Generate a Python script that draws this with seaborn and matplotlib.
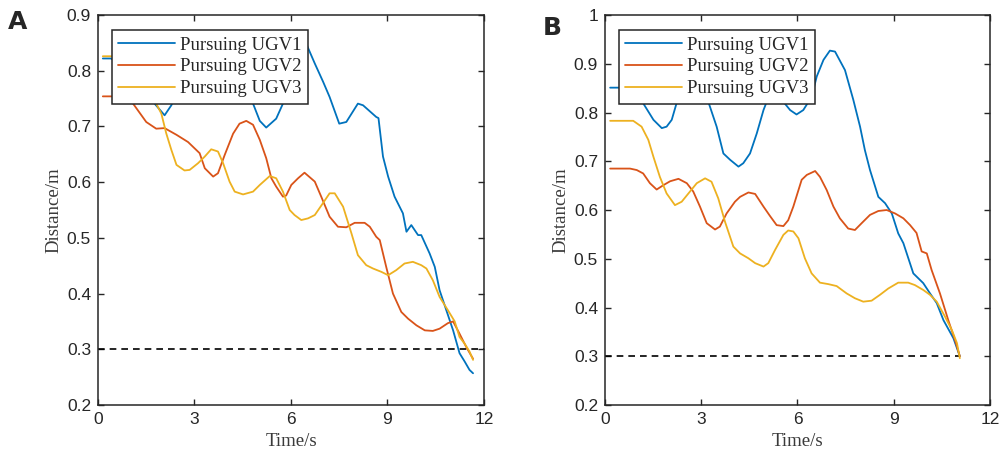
import numpy as np
import pandas as pd
import seaborn as sns
import matplotlib.pyplot as plt

series_names = ["Pursuing UGV1", "Pursuing UGV2", "Pursuing UGV3"]
colors = ["#0072BD", "#D95319", "#EDB120"]

# panel A
a_t1 = [0.15, 0.4, 0.8, 1.2, 1.5, 1.76, 2.07, 2.28, 2.6, 3.0, 3.5, 4.0, 4.4, 4.82, 5.03, 5.23, 5.54,
        5.75, 6.0, 6.3, 6.5, 6.74, 7.0, 7.2, 7.5, 7.72, 8.08, 8.24, 8.65, 8.72, 8.86, 9.02, 9.22, 9.48,
        9.59, 9.74, 9.95, 10.05, 10.31, 10.47, 10.62, 10.83, 11.04, 11.24, 11.4, 11.55, 11.66]
a_d1 = [0.822, 0.822, 0.81, 0.785, 0.76, 0.741, 0.72, 0.738, 0.775, 0.80, 0.805, 0.79, 0.765, 0.741,
        0.71, 0.698, 0.714, 0.741, 0.80, 0.855, 0.845, 0.813, 0.78, 0.753, 0.705, 0.708, 0.741, 0.738,
        0.717, 0.715, 0.646, 0.61, 0.574, 0.544, 0.511, 0.523, 0.505, 0.505, 0.472, 0.448, 0.406, 0.37,
        0.334, 0.293, 0.278, 0.263, 0.257]
a_t2 = [0.15, 0.5, 0.8, 1.09, 1.5, 1.81, 2.07, 2.44, 2.8, 3.16, 3.32, 3.58, 3.73, 3.94, 4.2, 4.4, 4.61,
        4.82, 5.03, 5.23, 5.39, 5.54, 5.75, 5.85, 6.01, 6.22, 6.42, 6.74, 6.94, 7.2, 7.46, 7.72, 7.98,
        8.29, 8.45, 8.65, 8.76, 8.96, 9.17, 9.43, 9.64, 9.9, 10.16, 10.41, 10.62, 10.88, 11.04, 11.24,
        11.45, 11.66]
a_d2 = [0.754, 0.754, 0.752, 0.741, 0.708, 0.696, 0.697, 0.685, 0.672, 0.652, 0.625, 0.61, 0.616,
        0.649, 0.687, 0.705, 0.71, 0.703, 0.676, 0.643, 0.607, 0.592, 0.574, 0.576, 0.595, 0.607, 0.617,
        0.601, 0.574, 0.538, 0.52, 0.519, 0.527, 0.527, 0.52, 0.502, 0.496, 0.448, 0.4, 0.367, 0.355,
        0.343, 0.334, 0.333, 0.337, 0.347, 0.35, 0.328, 0.304, 0.283]
a_t3 = [0.15, 0.5, 0.9, 1.3, 1.6, 1.81, 1.97, 2.12, 2.28, 2.44, 2.69, 2.85, 3.11, 3.32, 3.52, 3.73,
        3.89, 4.09, 4.25, 4.51, 4.82, 5.03, 5.34, 5.54, 5.75, 5.96, 6.11, 6.32, 6.53, 6.74, 6.99, 7.2,
        7.36, 7.62, 7.88, 8.08, 8.34, 8.55, 8.81, 9.02, 9.27, 9.53, 9.79, 10.05, 10.21, 10.41, 10.62,
        10.88, 11.09, 11.24, 11.4, 11.55, 11.66]
a_d3 = [0.826, 0.826, 0.815, 0.79, 0.76, 0.741, 0.723, 0.688, 0.658, 0.631, 0.621, 0.622, 0.634,
        0.646, 0.659, 0.655, 0.634, 0.601, 0.583, 0.578, 0.583, 0.595, 0.611, 0.607, 0.583, 0.55, 0.541,
        0.532, 0.535, 0.541, 0.562, 0.58, 0.58, 0.556, 0.508, 0.469, 0.451, 0.445, 0.439, 0.433, 0.442,
        0.454, 0.457, 0.451, 0.445, 0.424, 0.394, 0.37, 0.35, 0.322, 0.31, 0.296, 0.281]
a_thr_t = [0.0, 12.0]

# panel B
b_t1 = [0.16, 0.6, 0.9, 1.19, 1.51, 1.77, 1.92, 2.08, 2.23, 2.5, 2.8, 3.0, 3.22, 3.48, 3.69, 3.9,
        4.16, 4.31, 4.52, 4.73, 4.94, 5.04, 5.3, 5.56, 5.77, 5.97, 6.18, 6.44, 6.6, 6.81, 7.01, 7.17,
        7.48, 7.74, 7.95, 8.1, 8.26, 8.52, 8.73, 8.94, 9.14, 9.3, 9.61, 9.92, 10.13, 10.34, 10.55,
        10.86, 11.06]
b_d1 = [0.851, 0.851, 0.84, 0.819, 0.785, 0.768, 0.771, 0.785, 0.819, 0.85, 0.86, 0.85, 0.822, 0.771,
        0.716, 0.703, 0.689, 0.696, 0.716, 0.757, 0.805, 0.822, 0.84, 0.822, 0.805, 0.796, 0.805, 0.832,
        0.874, 0.908, 0.927, 0.925, 0.887, 0.826, 0.771, 0.723, 0.682, 0.627, 0.614, 0.593, 0.552,
        0.532, 0.47, 0.45, 0.429, 0.409, 0.374, 0.337, 0.3]
b_t2 = [0.16, 0.78, 0.99, 1.19, 1.4, 1.61, 1.82, 2.03, 2.29, 2.55, 2.75, 2.96, 3.17, 3.43, 3.58, 3.79,
        4.05, 4.21, 4.47, 4.68, 4.94, 5.14, 5.35, 5.56, 5.71, 5.87, 6.13, 6.29, 6.55, 6.7, 6.91, 7.12,
        7.32, 7.58, 7.79, 8.0, 8.26, 8.52, 8.78, 9.04, 9.3, 9.51, 9.71, 9.87, 10.03, 10.18, 10.44,
        10.7, 10.91, 11.06]
b_d2 = [0.685, 0.685, 0.682, 0.675, 0.655, 0.642, 0.651, 0.659, 0.664, 0.655, 0.638, 0.607, 0.573,
        0.56, 0.566, 0.593, 0.617, 0.627, 0.636, 0.633, 0.607, 0.588, 0.569, 0.567, 0.579, 0.607, 0.662,
        0.672, 0.68, 0.668, 0.641, 0.607, 0.583, 0.562, 0.559, 0.573, 0.59, 0.598, 0.6, 0.593, 0.583,
        0.569, 0.553, 0.515, 0.511, 0.477, 0.429, 0.374, 0.333, 0.3]
b_t3 = [0.16, 0.88, 1.14, 1.35, 1.51, 1.71, 1.92, 2.18, 2.39, 2.65, 2.86, 3.12, 3.32, 3.53, 3.74, 4.0,
        4.21, 4.47, 4.68, 4.94, 5.09, 5.3, 5.56, 5.71, 5.87, 6.03, 6.23, 6.44, 6.7, 6.96, 7.22, 7.53,
        7.79, 8.05, 8.31, 8.57, 8.83, 9.14, 9.45, 9.66, 9.92, 10.13, 10.34, 10.6, 10.81, 10.97, 11.06]
b_d3 = [0.783, 0.783, 0.771, 0.744, 0.709, 0.668, 0.634, 0.61, 0.617, 0.638, 0.655, 0.665, 0.658,
        0.624, 0.576, 0.525, 0.511, 0.501, 0.491, 0.484, 0.491, 0.518, 0.549, 0.558, 0.556, 0.542, 0.501,
        0.47, 0.451, 0.448, 0.444, 0.429, 0.419, 0.412, 0.414, 0.426, 0.439, 0.451, 0.451, 0.446, 0.436,
        0.426, 0.412, 0.381, 0.354, 0.327, 0.296]
b_thr_t = [0.0, 11.06]

threshold = 0.3
x_ticks = [0, 3, 6, 9, 12]
a_yticks = [0.2, 0.3, 0.4, 0.5, 0.6, 0.7, 0.8, 0.9]
b_yticks = [0.2, 0.3, 0.4, 0.5, 0.6, 0.7, 0.8, 0.9, 1.0]
b_ylabels = ["0.2", "0.3", "0.4", "0.5", "0.6", "0.7", "0.8", "0.9", "1"]


def make_frame(ts, ds):
    parts = []
    for name, t, d in zip(series_names, ts, ds):
        parts.append(pd.DataFrame({"t": t, "d": d, "who": name}))
    return pd.concat(parts, ignore_index=True)


def draw_panel(ax, df, thr_t, yticks, ylabels, ylim):
    sns.lineplot(data=df, x="t", y="d", hue="who", palette=colors, sort=False,
                 estimator=None, linewidth=1.3, ax=ax, zorder=3)
    ax.plot(thr_t, [threshold, threshold], color="black", linestyle=(0, (4, 3)), linewidth=1.2, zorder=2)
    ax.set_xlim(0, 12)
    ax.set_ylim(*ylim)
    ax.set_xticks(x_ticks)
    ax.set_yticks(yticks)
    ax.set_yticklabels(ylabels)
    ax.tick_params(direction="in", top=True, right=True, length=4, width=1,
                   labelsize=12.5, colors="#262626", pad=5)
    for lbl in ax.get_xticklabels() + ax.get_yticklabels():
        lbl.set_family("Liberation Sans")
    for sp in ax.spines.values():
        sp.set_visible(True)
        sp.set_color("#262626")
        sp.set_linewidth(1.1)
    ax.set_xlabel("Time/s", family="Liberation Serif", fontsize=13.5, color="#3a3a3a", labelpad=4)
    ax.set_ylabel("Distance/m", family="Liberation Serif", fontsize=13.5, color="#3a3a3a", labelpad=3)
    leg = ax.legend(loc="upper left", bbox_to_anchor=(0.036, 0.962), borderaxespad=0,
                    prop={"family": "Liberation Serif", "size": 13.5}, frameon=True, fancybox=False,
                    handlelength=3.0, handletextpad=0.3, labelspacing=0.25, borderpad=0.35)
    leg.get_frame().set_edgecolor("#262626")
    leg.get_frame().set_linewidth(1.1)
    leg.get_frame().set_alpha(1)
    leg.set_zorder(5)


sns.set_theme(style="ticks")
plt.rcParams["font.family"] = ["Liberation Sans", "DejaVu Sans"]

fig = plt.figure(figsize=(10.01, 4.58), dpi=100)
ax_a = fig.add_axes([0.0979, 0.1157, 0.3856, 0.8515])
ax_b = fig.add_axes([0.6044, 0.1157, 0.3846, 0.8515])

draw_panel(ax_a, make_frame([a_t1, a_t2, a_t3], [a_d1, a_d2, a_d3]), a_thr_t,
           a_yticks, [f"{v:.1f}" for v in a_yticks], (0.2, 0.9))
draw_panel(ax_b, make_frame([b_t1, b_t2, b_t3], [b_d1, b_d2, b_d3]), b_thr_t,
           b_yticks, b_ylabels, (0.2, 1.0))

fig.text(8 / 1001, 1 - 22 / 458, "A", fontsize=18, fontweight="bold", family="DejaVu Sans",
         va="center", ha="left")
fig.text(543 / 1001, 1 - 28 / 458, "B", fontsize=18, fontweight="bold", family="DejaVu Sans",
         va="center", ha="left")

fig.savefig("out.png", dpi=100)
